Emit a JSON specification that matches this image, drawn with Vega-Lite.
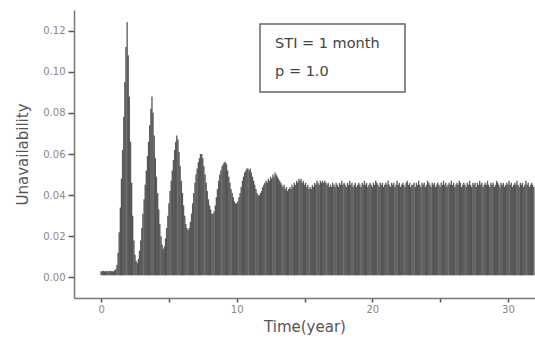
{
"$schema": "https://vega.github.io/schema/vega-lite/v6.json",
"width": 461, "height": 288,
"autosize": {"type": "none"},
"padding": {"left": 74, "top": 10, "right": 0, "bottom": 49},
"background": "white",
"config": {"view": {"stroke": null}, "font": "DejaVu Sans"},
"layer": [
{
"data": {"values": [
{"t":0,"u":0.003},{"t":0.08,"u":0.003},{"t":0.17,"u":0.0032},{"t":0.25,"u":0.003},{"t":0.33,"u":0.003},{"t":0.42,"u":0.0031},{"t":0.5,"u":0.003},{"t":0.58,"u":0.003},{"t":0.67,"u":0.0032},{"t":0.75,"u":0.003},{"t":0.83,"u":0.003},{"t":0.92,"u":0.003},
{"t":1.0,"u":0.0035},{"t":1.08,"u":0.004},{"t":1.17,"u":0.006},{"t":1.25,"u":0.012},{"t":1.33,"u":0.022},{"t":1.42,"u":0.034},{"t":1.5,"u":0.048},{"t":1.58,"u":0.062},{"t":1.67,"u":0.078},{"t":1.75,"u":0.095},{"t":1.83,"u":0.112},{"t":1.92,"u":0.124},
{"t":2.0,"u":0.108},{"t":2.08,"u":0.088},{"t":2.17,"u":0.066},{"t":2.25,"u":0.046},{"t":2.33,"u":0.03},{"t":2.42,"u":0.018},{"t":2.5,"u":0.011},{"t":2.58,"u":0.008},{"t":2.67,"u":0.007},{"t":2.75,"u":0.009},{"t":2.83,"u":0.013},{"t":2.92,"u":0.018},
{"t":3.0,"u":0.024},{"t":3.08,"u":0.031},{"t":3.17,"u":0.038},{"t":3.25,"u":0.045},{"t":3.33,"u":0.052},{"t":3.42,"u":0.059},{"t":3.5,"u":0.066},{"t":3.58,"u":0.074},{"t":3.67,"u":0.082},{"t":3.75,"u":0.088},{"t":3.83,"u":0.08},{"t":3.92,"u":0.069},
{"t":4.0,"u":0.058},{"t":4.08,"u":0.049},{"t":4.17,"u":0.041},{"t":4.25,"u":0.033},{"t":4.33,"u":0.026},{"t":4.42,"u":0.02},{"t":4.5,"u":0.016},{"t":4.58,"u":0.014},{"t":4.67,"u":0.015},{"t":4.75,"u":0.019},{"t":4.83,"u":0.024},{"t":4.92,"u":0.03},
{"t":5.0,"u":0.036},{"t":5.08,"u":0.042},{"t":5.17,"u":0.047},{"t":5.25,"u":0.052},{"t":5.33,"u":0.057},{"t":5.42,"u":0.062},{"t":5.5,"u":0.066},{"t":5.58,"u":0.069},{"t":5.67,"u":0.067},{"t":5.75,"u":0.061},{"t":5.83,"u":0.054},{"t":5.92,"u":0.047},
{"t":6.0,"u":0.041},{"t":6.08,"u":0.035},{"t":6.17,"u":0.03},{"t":6.25,"u":0.026},{"t":6.33,"u":0.024},{"t":6.42,"u":0.023},{"t":6.5,"u":0.024},{"t":6.58,"u":0.027},{"t":6.67,"u":0.031},{"t":6.75,"u":0.036},{"t":6.83,"u":0.041},{"t":6.92,"u":0.046},
{"t":7.0,"u":0.05},{"t":7.08,"u":0.053},{"t":7.17,"u":0.056},{"t":7.25,"u":0.058},{"t":7.33,"u":0.06},{"t":7.42,"u":0.06},{"t":7.5,"u":0.058},{"t":7.58,"u":0.054},{"t":7.67,"u":0.05},{"t":7.75,"u":0.046},{"t":7.83,"u":0.042},{"t":7.92,"u":0.038},
{"t":8.0,"u":0.035},{"t":8.08,"u":0.033},{"t":8.17,"u":0.031},{"t":8.25,"u":0.031},{"t":8.33,"u":0.032},{"t":8.42,"u":0.035},{"t":8.5,"u":0.039},{"t":8.58,"u":0.043},{"t":8.67,"u":0.047},{"t":8.75,"u":0.05},{"t":8.83,"u":0.052},{"t":8.92,"u":0.054},
{"t":9.0,"u":0.055},{"t":9.08,"u":0.056},{"t":9.17,"u":0.056},{"t":9.25,"u":0.055},{"t":9.33,"u":0.052},{"t":9.42,"u":0.049},{"t":9.5,"u":0.046},{"t":9.58,"u":0.043},{"t":9.67,"u":0.041},{"t":9.75,"u":0.039},{"t":9.83,"u":0.037},{"t":9.92,"u":0.036},
{"t":10.0,"u":0.036},{"t":10.08,"u":0.037},{"t":10.17,"u":0.039},{"t":10.25,"u":0.041},{"t":10.33,"u":0.044},{"t":10.42,"u":0.047},{"t":10.5,"u":0.049},{"t":10.58,"u":0.051},{"t":10.67,"u":0.052},{"t":10.75,"u":0.053},{"t":10.83,"u":0.053},{"t":10.92,"u":0.052},
{"t":11.0,"u":0.053},{"t":11.08,"u":0.051},{"t":11.17,"u":0.049},{"t":11.25,"u":0.047},{"t":11.33,"u":0.045},{"t":11.42,"u":0.043},{"t":11.5,"u":0.041},{"t":11.58,"u":0.04},{"t":11.67,"u":0.04},{"t":11.75,"u":0.041},{"t":11.83,"u":0.042},{"t":11.92,"u":0.044},
{"t":12.0,"u":0.045},{"t":12.08,"u":0.046},{"t":12.17,"u":0.047},{"t":12.25,"u":0.046},{"t":12.33,"u":0.048},{"t":12.42,"u":0.047},{"t":12.5,"u":0.049},{"t":12.58,"u":0.048},{"t":12.67,"u":0.05},{"t":12.75,"u":0.049},{"t":12.83,"u":0.051},{"t":12.92,"u":0.05},
{"t":13.0,"u":0.049},{"t":13.08,"u":0.048},{"t":13.17,"u":0.047},{"t":13.25,"u":0.046},{"t":13.33,"u":0.045},{"t":13.42,"u":0.044},{"t":13.5,"u":0.045},{"t":13.58,"u":0.043},{"t":13.67,"u":0.044},{"t":13.75,"u":0.042},{"t":13.83,"u":0.043},{"t":13.92,"u":0.044},
{"t":14.0,"u":0.043},{"t":14.08,"u":0.045},{"t":14.17,"u":0.044},{"t":14.25,"u":0.046},{"t":14.33,"u":0.045},{"t":14.42,"u":0.047},{"t":14.5,"u":0.046},{"t":14.58,"u":0.048},{"t":14.67,"u":0.047},{"t":14.75,"u":0.048},{"t":14.83,"u":0.046},{"t":14.92,"u":0.047},
{"t":15.0,"u":0.045},{"t":15.08,"u":0.046},{"t":15.17,"u":0.044},{"t":15.25,"u":0.045},{"t":15.33,"u":0.043},{"t":15.42,"u":0.044},{"t":15.5,"u":0.043},{"t":15.58,"u":0.045},{"t":15.67,"u":0.044},{"t":15.75,"u":0.046},{"t":15.83,"u":0.045},{"t":15.92,"u":0.047},
{"t":16.0,"u":0.046},{"t":16.08,"u":0.045},{"t":16.17,"u":0.047},{"t":16.25,"u":0.046},{"t":16.33,"u":0.047},{"t":16.42,"u":0.046},{"t":16.5,"u":0.047},{"t":16.58,"u":0.046},{"t":16.67,"u":0.045},{"t":16.75,"u":0.046},{"t":16.83,"u":0.044},{"t":16.92,"u":0.045},
{"t":17.0,"u":0.044},{"t":17.08,"u":0.046},{"t":17.17,"u":0.045},{"t":17.25,"u":0.044},{"t":17.33,"u":0.046},{"t":17.42,"u":0.045},{"t":17.5,"u":0.044},{"t":17.58,"u":0.046},{"t":17.67,"u":0.045},{"t":17.75,"u":0.047},{"t":17.83,"u":0.045},{"t":17.92,"u":0.046},
{"t":18.0,"u":0.045},{"t":18.08,"u":0.044},{"t":18.17,"u":0.046},{"t":18.25,"u":0.045},{"t":18.33,"u":0.047},{"t":18.42,"u":0.045},{"t":18.5,"u":0.046},{"t":18.58,"u":0.044},{"t":18.67,"u":0.045},{"t":18.75,"u":0.046},{"t":18.83,"u":0.044},{"t":18.92,"u":0.045},
{"t":19.0,"u":0.046},{"t":19.08,"u":0.045},{"t":19.17,"u":0.044},{"t":19.25,"u":0.046},{"t":19.33,"u":0.045},{"t":19.42,"u":0.047},{"t":19.5,"u":0.045},{"t":19.58,"u":0.046},{"t":19.67,"u":0.044},{"t":19.75,"u":0.045},{"t":19.83,"u":0.046},{"t":19.92,"u":0.045},
{"t":20.0,"u":0.044},{"t":20.08,"u":0.046},{"t":20.17,"u":0.045},{"t":20.25,"u":0.047},{"t":20.33,"u":0.046},{"t":20.42,"u":0.045},{"t":20.5,"u":0.044},{"t":20.58,"u":0.046},{"t":20.67,"u":0.045},{"t":20.75,"u":0.046},{"t":20.83,"u":0.044},{"t":20.92,"u":0.045},
{"t":21.0,"u":0.046},{"t":21.08,"u":0.045},{"t":21.17,"u":0.047},{"t":21.25,"u":0.045},{"t":21.33,"u":0.044},{"t":21.42,"u":0.046},{"t":21.5,"u":0.045},{"t":21.58,"u":0.046},{"t":21.67,"u":0.044},{"t":21.75,"u":0.045},{"t":21.83,"u":0.047},{"t":21.92,"u":0.045},
{"t":22.0,"u":0.046},{"t":22.08,"u":0.044},{"t":22.17,"u":0.045},{"t":22.25,"u":0.046},{"t":22.33,"u":0.045},{"t":22.42,"u":0.044},{"t":22.5,"u":0.046},{"t":22.58,"u":0.047},{"t":22.67,"u":0.045},{"t":22.75,"u":0.046},{"t":22.83,"u":0.044},{"t":22.92,"u":0.045},
{"t":23.0,"u":0.045},{"t":23.08,"u":0.046},{"t":23.17,"u":0.044},{"t":23.25,"u":0.046},{"t":23.33,"u":0.045},{"t":23.42,"u":0.047},{"t":23.5,"u":0.045},{"t":23.58,"u":0.044},{"t":23.67,"u":0.046},{"t":23.75,"u":0.045},{"t":23.83,"u":0.046},{"t":23.92,"u":0.044},
{"t":24.0,"u":0.045},{"t":24.08,"u":0.047},{"t":24.17,"u":0.046},{"t":24.25,"u":0.045},{"t":24.33,"u":0.044},{"t":24.42,"u":0.046},{"t":24.5,"u":0.045},{"t":24.58,"u":0.046},{"t":24.67,"u":0.044},{"t":24.75,"u":0.045},{"t":24.83,"u":0.046},{"t":24.92,"u":0.045},
{"t":25.0,"u":0.044},{"t":25.08,"u":0.046},{"t":25.17,"u":0.045},{"t":25.25,"u":0.047},{"t":25.33,"u":0.045},{"t":25.42,"u":0.046},{"t":25.5,"u":0.044},{"t":25.58,"u":0.045},{"t":25.67,"u":0.046},{"t":25.75,"u":0.045},{"t":25.83,"u":0.047},{"t":25.92,"u":0.045},
{"t":26.0,"u":0.046},{"t":26.08,"u":0.044},{"t":26.17,"u":0.045},{"t":26.25,"u":0.046},{"t":26.33,"u":0.045},{"t":26.42,"u":0.047},{"t":26.5,"u":0.046},{"t":26.58,"u":0.044},{"t":26.67,"u":0.045},{"t":26.75,"u":0.046},{"t":26.83,"u":0.045},{"t":26.92,"u":0.044},
{"t":27.0,"u":0.046},{"t":27.08,"u":0.045},{"t":27.17,"u":0.047},{"t":27.25,"u":0.045},{"t":27.33,"u":0.044},{"t":27.42,"u":0.046},{"t":27.5,"u":0.045},{"t":27.58,"u":0.046},{"t":27.67,"u":0.044},{"t":27.75,"u":0.046},{"t":27.83,"u":0.045},{"t":27.92,"u":0.047},
{"t":28.0,"u":0.045},{"t":28.08,"u":0.046},{"t":28.17,"u":0.044},{"t":28.25,"u":0.045},{"t":28.33,"u":0.046},{"t":28.42,"u":0.045},{"t":28.5,"u":0.047},{"t":28.58,"u":0.045},{"t":28.67,"u":0.044},{"t":28.75,"u":0.046},{"t":28.83,"u":0.045},{"t":28.92,"u":0.046},
{"t":29.0,"u":0.044},{"t":29.08,"u":0.045},{"t":29.17,"u":0.047},{"t":29.25,"u":0.046},{"t":29.33,"u":0.045},{"t":29.42,"u":0.044},{"t":29.5,"u":0.046},{"t":29.58,"u":0.045},{"t":29.67,"u":0.046},{"t":29.75,"u":0.044},{"t":29.83,"u":0.045},{"t":29.92,"u":0.046},
{"t":30.0,"u":0.045},{"t":30.08,"u":0.047},{"t":30.17,"u":0.045},{"t":30.25,"u":0.046},{"t":30.33,"u":0.044},{"t":30.42,"u":0.045},{"t":30.5,"u":0.046},{"t":30.58,"u":0.045},{"t":30.67,"u":0.047},{"t":30.75,"u":0.045},{"t":30.83,"u":0.044},{"t":30.92,"u":0.046},
{"t":31.0,"u":0.045},{"t":31.08,"u":0.046},{"t":31.17,"u":0.044},{"t":31.25,"u":0.045},{"t":31.33,"u":0.047},{"t":31.42,"u":0.045},{"t":31.5,"u":0.046},{"t":31.58,"u":0.044},{"t":31.67,"u":0.045},{"t":31.75,"u":0.046},{"t":31.83,"u":0.045},{"t":31.92,"u":0.044}
]},
"mark": {"type": "rule", "color": "#2e2e2e", "strokeWidth": 1.35, "opacity": 0.78},
"encoding": {
"x": {"field": "t", "type": "quantitative", "title": "Time(year)",
"scale": {"domain": [-2, 32], "nice": false, "zero": false},
"axis": {"values": [0,5,10,15,20,25,30], "labelExpr": "datum.value % 10 == 0 ? datum.label : ''",
"grid": false, "tickSize": 4, "tickColor": "#555", "tickWidth": 1.5, "domainColor": "#777", "domainWidth": 1.5,
"labelColor": "#888", "labelFontSize": 10, "labelPadding": 2, "labelFont": "DejaVu Sans",
"titleFont": "DejaVu Sans", "titleFontSize": 15, "titleFontWeight": "normal", "titleColor": "#555", "titlePadding": 5}},
"y": {"field": "u", "type": "quantitative", "title": "Unavailability",
"scale": {"domain": [-0.01, 0.13], "nice": false, "zero": false},
"axis": {"values": [0,0.01,0.02,0.03,0.04,0.05,0.06,0.07,0.08,0.09,0.1,0.11,0.12],
"labelExpr": "round(datum.value*100) % 2 == 0 ? format(datum.value, '.2f') : ''",
"grid": false,
"tickSize": {"condition": {"test": "round(datum.value*100) % 2 == 0", "value": 6}, "value": 4},
"tickColor": "#555", "tickWidth": 1.5, "domainColor": "#777", "domainWidth": 1.5,
"labelColor": "#888", "labelFontSize": 10, "labelPadding": 3, "labelFont": "DejaVu Sans",
"titleFont": "DejaVu Sans", "titleFontSize": 15, "titleFontWeight": "normal", "titleColor": "#555", "titlePadding": 12}},
"y2": {"datum": 0.001}
}
},
{
"data": {"values": [{"t": 11.72, "t2": 22.41, "u": 0.1232, "u2": 0.0901}]},
"mark": {"type": "rect", "fill": "white", "stroke": "#666", "strokeWidth": 1.5},
"encoding": {
"x": {"field": "t", "type": "quantitative"},
"x2": {"field": "t2"},
"y": {"field": "u", "type": "quantitative"},
"y2": {"field": "u2"}
}
},
{
"data": {"values": [{"t": 12.83, "u": 0.1135, "label": "STI = 1 month"}, {"t": 12.83, "u": 0.0998, "label": "p = 1.0"}]},
"mark": {"type": "text", "align": "left", "baseline": "middle", "font": "DejaVu Sans", "fontSize": 14.5, "color": "#444"},
"encoding": {
"x": {"field": "t", "type": "quantitative"},
"y": {"field": "u", "type": "quantitative"},
"text": {"field": "label"}
}
}
]
}
